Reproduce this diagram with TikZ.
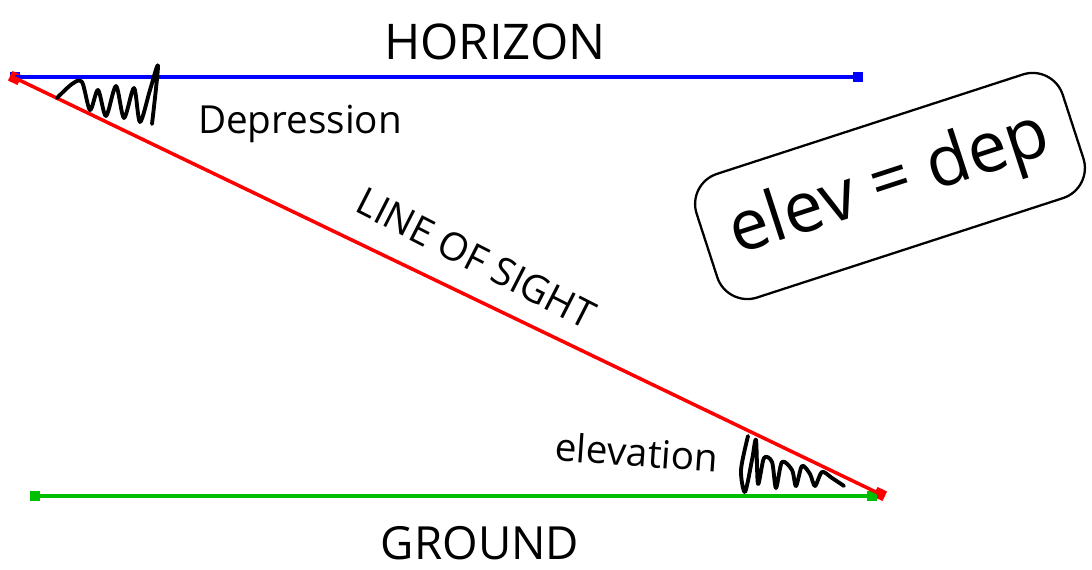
\documentclass[tikz,border=0pt]{standalone}
\usepackage{fontspec}
\setmainfont{Open Sans}
\usetikzlibrary{positioning, calc, shapes.geometric}
\tikzset{
    endpt/.style={rectangle, fill, inner sep=0pt, minimum size=6pt},
    sightline/.style={line width=2pt},
    handtext/.style={font=\fontsize{22}{24}\selectfont, text=black},
    scribble/.style={line width=2.2pt, black, line join=round, line cap=round}
}

\begin{document}
\begin{tikzpicture}[x=0.02cm, y=-0.02cm]
    \useasboundingbox (0,0) rectangle (1092,570);

    % end points of the three lines
    \node (hor_l) [endpt, blue] at (15,77) {};
    \node (hor_r) [endpt, blue] at (858,77) {};
    \node (los_top) [endpt, red, rotate=-25.7] at (15,78) {};
    \node (los_bot) [endpt, red, rotate=-25.7] at (880,494) {};
    \node (gnd_l) [endpt, green!75!black] at (35,496) {};
    \node (gnd_r) [endpt, green!75!black] at (872,496) {};

    \draw [sightline, blue] (hor_l.center) -- (hor_r.center);
    \draw [sightline, green!75!black] (gnd_l.center) -- (gnd_r.center);
    \draw [sightline, red] (los_top.center) -- (los_bot.center);

    % labels
    \node (horizon) [handtext, font=\fontsize{28}{30}\selectfont] at (495,42) {HORIZON};
    \node (ground) [handtext, font=\fontsize{26}{28}\selectfont] at (480,543) {GROUND};
    \node (depression) [handtext] at (300,124) {Depression};
    \node (sight) [handtext, rotate=-27] at (476,258) {LINE OF SIGHT};
    \node (elevation) [handtext, rotate=-4] at (637,452) {elevation};

    % angle scribbles
    \draw [scribble] plot [smooth, tension=0.5] coordinates {(57,98) (72,84) (82,82) (90,110) (98,90) (106,116) (116,86) (124,118) (134,88) (140,122) (150,90) (158,66) (152,124)};
    \draw [scribble] plot [smooth, tension=0.5] coordinates {(748,436) (741,470) (745,492) (752,460) (756,440) (758,484) (764,458) (772,462) (776,488) (782,462) (792,470) (796,486) (802,466) (810,474) (815,486) (822,472) (832,478) (844,486)};

    % note box
    \node (note) [draw, line width=1.3pt, rounded corners=18pt, rotate=18, minimum width=7.7cm, minimum height=2.6cm, font=\fontsize{40}{42}\selectfont] at (890,186) {elev = dep};
\end{tikzpicture}
\end{document}
